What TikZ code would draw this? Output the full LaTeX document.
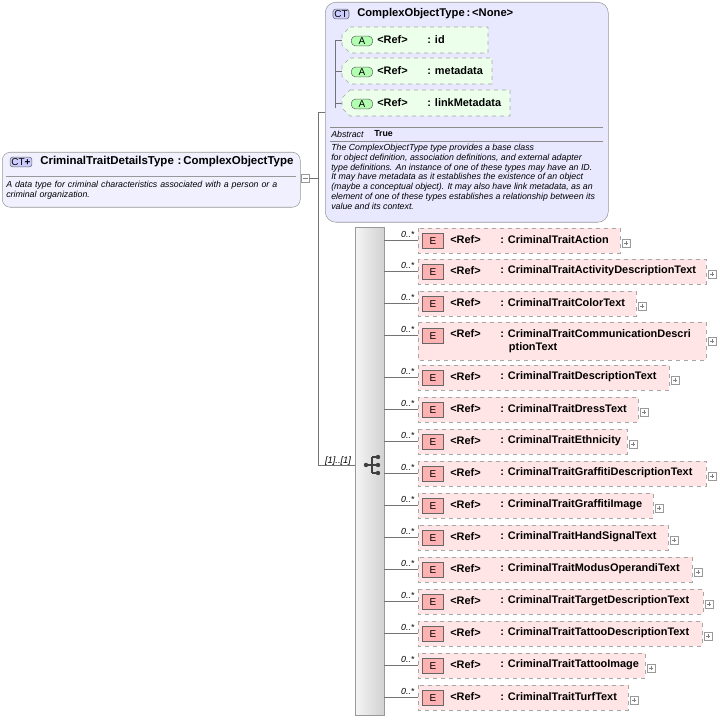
\documentclass[tikz,border=0pt]{standalone}
\usepackage{fontspec}
\setmainfont{Liberation Sans}
\begin{document}
\begin{tikzpicture}[x=0.75pt,y=-0.75pt,
 ln/.style={draw=black!55,line width=0.5pt},
 tfont/.style={font=\bfseries\fontsize{8.2}{10}\selectfont,inner sep=0pt},
 dfont/.style={font=\itshape\fontsize{6.6}{7.3}\selectfont},
 ebox/.style={draw=black!35,dashed,fill=red!10,line width=0.5pt},
 abox/.style={draw=black!35,dashed,fill=green!8,line width=0.5pt},
 plusbox/.style={draw=black!40,fill=white,line width=0.4pt,minimum size=6pt,inner sep=0pt}]
\useasboundingbox (0,0) rectangle (720,720);
% left box
\node[draw=black!40,fill=blue!6,rounded corners=6pt,minimum width=298*0.75pt,minimum height=55*0.75pt,anchor=north west] (ctd) at (2,152) {};
\node[draw=black!60,fill=blue!20,rounded corners=2pt,inner sep=1pt,font=\fontsize{7.5}{8}\selectfont] (cti) at (21,162) {CT\textbf{+}};
\node[font=\bfseries\fontsize{8.6}{10}\selectfont,inner sep=0pt,anchor=west] (ctt) at (40,162) {CriminalTraitDetailsType\,\,:\,ComplexObjectType};
\draw[black!40] (6,176) -- (296,176);
\node[dfont,anchor=north west,align=left,text width=290*0.75pt,inner sep=0pt] (ctdd) at (6,181) {A data type for criminal characteristics associated with a person or a criminal organization.};
\node[plusbox] (col) at (305,178) {};
\draw[black!50] (302.5,178) -- (307.5,178);
% connectors
\coordinate (j1) at (318,178);
\coordinate (ja) at (318,112);
\coordinate (js) at (318,465);
\draw[ln] (col.east) -- (j1);
\draw[ln] (ja) -- (js) -- (355,465);
\draw[ln] (ja) -- (325,112);
\node[font=\itshape\fontsize{7}{7}\selectfont,anchor=south] (mul) at (338,470) {[1]..[1]};
% CT box
\node[draw=black!40,fill=blue!9,rounded corners=8pt,minimum width=283*0.75pt,minimum height=220*0.75pt,anchor=north west] (co) at (325,2) {};
\node[draw=black!60,fill=blue!20,rounded corners=2pt,inner sep=1pt,font=\fontsize{7.5}{8}\selectfont] (coi) at (341,14) {CT};
\node[font=\bfseries\fontsize{8.4}{10}\selectfont,inner sep=0pt,anchor=west] (cot) at (357,14) {ComplexObjectType\,:\,<None>};
\draw[ln] (335,40) -- (335,108);
\foreach \y/\w/\n in {40/488/id, 71/492/metadata, 103/510/linkMetadata}{
 \draw[ln] (335,\y) -- (342,\y);
 \draw[abox] (350,\y-13) -- (\w,\y-13) -- (\w,\y+13) -- (350,\y+13) -- (342,\y+5) -- (342,\y-5) -- cycle;
 \node[draw=black!60,fill=green!30,rounded corners=3pt,inner sep=1pt,minimum width=16pt,font=\fontsize{7.5}{8}\selectfont] at (362,\y+1) {A};
 \node[tfont,anchor=west] at (377,\y) {<Ref>};
 \node[tfont,anchor=west] at (427,\y) {: \n};
}
\draw[black!45] (330,127) -- (603,127);
\node[font=\itshape\fontsize{6.6}{7}\selectfont,anchor=west,inner sep=0pt] (ab) at (331,134) {Abstract};
\node[font=\bfseries\fontsize{6.6}{7}\selectfont,anchor=west,inner sep=0pt] (abv) at (374,134) {True};
\draw[black!45] (330,141) -- (603,141);
\node[dfont,anchor=north west,align=left,inner sep=0pt] (codd) at (331,144) {The ComplexObjectType type provides a base class\\for object definition, association definitions, and external adapter\\type definitions. An instance of one of these types may have an ID.\\It may have metadata as it establishes the existence of an object\\(maybe a conceptual object). It may also have link metadata, as an\\element of one of these types establishes a relationship between its\\value and its context.};
% sequence bar
\node[draw=black!40,left color=black!4,right color=black!18,minimum width=29*0.75pt,minimum height=488*0.75pt,anchor=north west,inner sep=0pt] (seq) at (355,227) {};
\fill[black!75] (366,465) circle (2.2);
\draw[black!75,line width=0.8pt] (366,465) -- (372,465) (372,457) -- (372,473) (372,457)--(377,457) (372,465)--(377,465) (372,473)--(377,473);
\foreach \yy in {457,465,473} \fill[black!75] (378,\yy) circle (2.2);
% elements
\foreach \y/\w/\n in {240/620/CriminalTraitAction, 271/706/CriminalTraitActivityDescriptionText, 303/636/CriminalTraitColorText, 377/669/CriminalTraitDescriptionText, 409/638/CriminalTraitDressText, 441/627/CriminalTraitEthnicity, 473/706/CriminalTraitGraffitiDescriptionText, 505/653/CriminalTraitGraffitiImage, 537/668/CriminalTraitHandSignalText, 569/692/CriminalTraitModusOperandiText, 601/703/CriminalTraitTargetDescriptionText, 633/702/CriminalTraitTattooDescriptionText, 665/645/CriminalTraitTattooImage, 697/628/CriminalTraitTurfText}{
 \draw[ln] (384,\y) -- (418,\y);
 \node[font=\itshape\fontsize{6.6}{7}\selectfont,anchor=south east,inner sep=1pt] at (416,\y-1) {0..*};
 \draw[ebox] (418,\y-12) rectangle (\w,\y+13);
 \node[draw=black!60,fill=red!30,inner sep=1pt,minimum width=16pt,minimum height=11pt,font=\fontsize{7.5}{8}\selectfont] at (433,\y+1) {E};
 \node[tfont,anchor=west] at (450,\y) {<Ref>};
 \node[tfont,anchor=west] at (500,\y) {: \n};
 \node[plusbox] at (\w+6,\y+3) {};
 \draw[black!50] (\w+4,\y+3) -- (\w+8,\y+3) (\w+6,\y+1) -- (\w+6,\y+5);
}
% two-line element
\draw[ln] (384,335) -- (418,335);
\node[font=\itshape\fontsize{6.6}{7}\selectfont,anchor=south east,inner sep=1pt] at (416,334) {0..*};
\draw[ebox] (418,322) rectangle (706,360);
\node[draw=black!60,fill=red!30,inner sep=1pt,minimum width=16pt,minimum height=11pt,font=\fontsize{7.5}{8}\selectfont] at (433,336) {E};
\node[tfont,anchor=west] at (450,334) {<Ref>};
\node[tfont,anchor=north west,align=left] at (500,329) {: CriminalTraitCommunicationDescri\\\hspace{6.5pt}ptionText};
\node[plusbox] at (712,341) {};
\draw[black!50] (710,341) -- (714,341) (712,339) -- (712,343);
\end{tikzpicture}
\end{document}
